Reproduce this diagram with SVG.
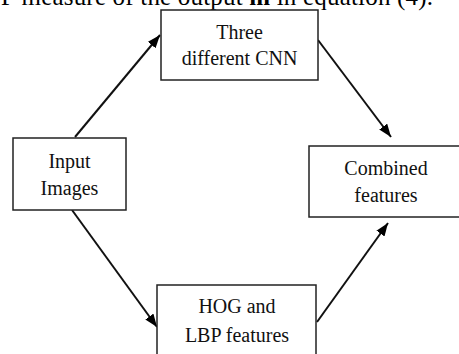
<svg xmlns="http://www.w3.org/2000/svg" width="459" height="354" viewBox="0 0 459 354">
<defs>
<style>
.box{fill:#fff;stroke:#222;stroke-width:1.5}
.lbl{font-family:"Liberation Serif","Times New Roman",serif;font-size:20px;fill:#111;text-anchor:middle}
.cap{font-family:"Liberation Serif","Times New Roman",serif;font-size:25px;fill:#000}
.conn{stroke:#111;stroke-width:2;fill:none;marker-end:url(#ah)}
</style>
<marker id="ah" markerUnits="userSpaceOnUse" markerWidth="14" markerHeight="12" refX="13" refY="5" orient="auto">
<path d="M0,0 L13,5 L0,10 z" fill="#000"/>
</marker>
</defs>
<rect width="459" height="354" fill="#fff"/>
<text class="cap" x="1" y="4.5" textLength="432" lengthAdjust="spacing">F measure of the output <tspan font-weight="bold">m</tspan> in equation (4).</text>
<g id="connectors">
<line class="conn" x1="75" y1="137" x2="160" y2="35"/>
<line class="conn" x1="318" y1="40" x2="391" y2="137"/>
<line class="conn" x1="72" y1="210" x2="157" y2="327"/>
<line class="conn" x1="317" y1="322" x2="388" y2="223"/>
</g>
<g id="three-cnn">
<rect class="box" x="161" y="10" width="157" height="70"/>
<text class="lbl" x="239.5" y="39">Three</text>
<text class="lbl" x="239.5" y="65">different CNN</text>
</g>
<g id="input-images">
<rect class="box" x="13" y="138" width="113" height="72"/>
<text class="lbl" x="69.5" y="168">Input</text>
<text class="lbl" x="69.5" y="195">Images</text>
</g>
<g id="combined-features">
<rect class="box" x="309" y="146" width="152" height="71"/>
<text class="lbl" x="386" y="175">Combined</text>
<text class="lbl" x="386" y="202">features</text>
</g>
<g id="hog-lbp">
<rect class="box" x="157" y="285" width="159" height="72"/>
<text class="lbl" x="237" y="313">HOG and</text>
<text class="lbl" x="237" y="342">LBP features</text>
</g>
</svg>
